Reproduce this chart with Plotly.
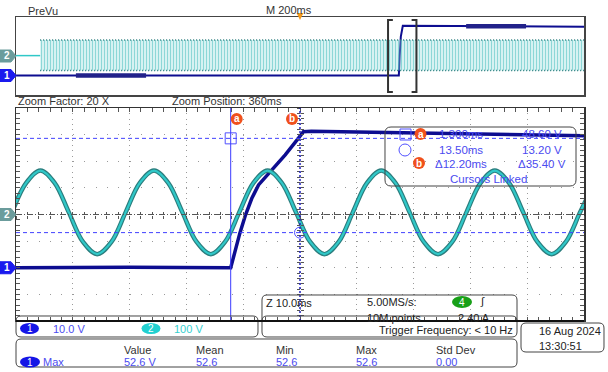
import plotly.graph_objects as go

W, H = 608, 372

# ---------------- data ----------------
# main (zoomed) window, time in ms (zoom position 360 ms, 10 ms/div)
ch1_t = [310, 330, 347.8, 348.6, 349.4, 350.4, 351.5, 352.7, 355.0, 357.4, 359.7, 360.6, 362, 370, 380, 395, 410]
ch1_v = [0, 0.2, 0, 6.5, 12.9, 19.8, 26.0, 31.1, 36.7, 42.4, 48.6, 51.1, 51.3, 51.0, 50.6, 50.0, 49.6]

ch2_t = [309.3, 311.8, 314.3, 316.8, 319.3, 321.8, 324.3, 326.8,
         329.3, 331.8, 334.3, 336.8, 339.3, 341.8, 344.3, 346.8,
         349.3, 351.8, 354.3, 356.8, 359.3, 361.8, 364.3, 366.8,
         369.3, 371.8, 374.3, 376.8, 379.3, 381.8, 384.3, 386.8,
         389.3, 391.8, 394.3, 396.8, 399.3, 401.8, 404.3, 406.8,
         409.3, 411.8]
ch2_v = [8, 119, 165, 119, 8, -103, -149, -103,
         8, 119, 165, 119, 8, -103, -149, -103,
         8, 119, 165, 119, 8, -103, -149, -103,
         8, 119, 165, 119, 8, -103, -149, -103,
         8, 119, 165, 119, 8, -103, -149, -103,
         8, 119]

# preview (200 ms/div), trigger at 0 ms
pv_ch1_t = [-1000, 348, 351, 355, 362, 1000]
pv_ch1_v = [0, 0, 20, 40, 51, 50]
pv_ch1_burst_lo_t = [-789, -542]
pv_ch1_burst_lo_v = [0, 0]
pv_ch1_burst_hi_t = [585, 796]
pv_ch1_burst_hi_v = [50.5, 50.5]
pv_ch2_flat_t = [-1000, -915]
pv_ch2_flat_v = [4, 4]
pv_ch2_env_t = [-915, 1000]
pv_ch2_env_hi = [165, 165]
pv_ch2_env_lo = [-149, -149]

cursor_a_t, cursor_b_t = 347.8, 360.0
cursor_a_v, cursor_b_v = 48.6, 13.2
zoom_lo, zoom_hi = 310, 410

readout = [("1.300ms", "48.60 V"), ("13.50ms", "13.20 V"), ("\u039412.20ms", "\u039435.40 V")]
meas_headers = ["Value", "Mean", "Min", "Max", "Std Dev"]
meas_values = ["52.6 V", "52.6", "52.6", "52.6", "0.00"]

# ---------------- helpers ----------------
def px(x):
    return x / W

def py(y):
    return 1 - y / H

FONT = "Liberation Sans"
BLUE_TXT = "#4b4bf0"
CH1 = "#0d0d90"
CH2_IN = "#30c8c8"
CH2_OUT = "#2b7d7d"
ORANGE = "#f0501c"

def rrect(x0, y0, x1, y1, r):
    pts = [
        ("M", [(x0 + r, y0)]), ("L", [(x1 - r, y0)]), ("Q", [(x1, y0), (x1, y0 + r)]),
        ("L", [(x1, y1 - r)]), ("Q", [(x1, y1), (x1 - r, y1)]), ("L", [(x0 + r, y1)]),
        ("Q", [(x0, y1), (x0, y1 - r)]), ("L", [(x0, y0 + r)]), ("Q", [(x0, y0), (x0 + r, y0)]),
    ]
    s = ""
    for cmd, ps in pts:
        s += cmd + " " + " ".join(f"{px(a):.5f},{py(b):.5f}" for a, b in ps) + " "
    return s + "Z"

shapes, ann = [], []

def text(x, y, s, color="#333", size=11, anchor="left", bold=False):
    ann.append(dict(x=px(x), y=py(y), xref="paper", yref="paper", text=(f"<b>{s}</b>" if bold else s),
                    showarrow=False, xanchor=anchor, yanchor="middle", borderpad=0,
                    font=dict(family=FONT, size=size, color=color)))

def pill(cx, cy, w, h, color, label):
    shapes.append(dict(type="circle", xref="paper", yref="paper", x0=px(cx - w / 2), x1=px(cx + w / 2),
                       y0=py(cy + h / 2), y1=py(cy - h / 2), fillcolor=color, line=dict(width=0)))
    text(cx, cy, label, color="white", size=10, anchor="center")

def box(x0, y0, x1, y1, r=4, color="#444"):
    shapes.append(dict(type="path", xref="paper", yref="paper", path=rrect(x0, y0, x1, y1, r),
                       line=dict(color=color, width=1), fillcolor="rgba(0,0,0,0)"))

# ---------------- traces ----------------
fig = go.Figure()
# main ch2 (outline + inner)
fig.add_trace(go.Scatter(x=ch2_t, y=ch2_v, xaxis="x", yaxis="y2", mode="lines",
                         line=dict(color=CH2_OUT, width=4.5, shape="spline"), hoverinfo="skip"))
fig.add_trace(go.Scatter(x=ch2_t, y=ch2_v, xaxis="x", yaxis="y2", mode="lines",
                         line=dict(color=CH2_IN, width=2.2, shape="spline"), hoverinfo="skip"))
# main ch1
fig.add_trace(go.Scatter(x=ch1_t, y=ch1_v, xaxis="x", yaxis="y", mode="lines",
                         line=dict(color=CH1, width=3.5), hoverinfo="skip"))
# cursor markers
fig.add_trace(go.Scatter(x=[cursor_a_t], y=[cursor_a_v], xaxis="x", yaxis="y", mode="markers",
                         marker=dict(symbol="square-open", size=11, color="#5050ff", line=dict(width=1))))
fig.add_trace(go.Scatter(x=[cursor_b_t], y=[cursor_b_v], xaxis="x", yaxis="y", mode="markers",
                         marker=dict(symbol="circle-open", size=11, color="#5050ff", line=dict(width=1))))

# preview ch2 envelope (dense 50 Hz cycles)
fig.add_trace(go.Scatter(x=pv_ch2_env_t, y=pv_ch2_env_lo, xaxis="x2", yaxis="y4", mode="lines",
                         line=dict(color=CH2_OUT, width=1.5, dash="1px,2px"), hoverinfo="skip"))
fig.add_trace(go.Scatter(x=pv_ch2_env_t, y=pv_ch2_env_hi, xaxis="x2", yaxis="y4", mode="lines",
                         line=dict(color=CH2_OUT, width=1.5, dash="1px,2px"), fill="tonexty",
                         fillcolor="rgba(170,230,230,0.3)",
                         fillpattern=dict(shape="|", fgcolor="#35b8b8", size=3, solidity=0.45),
                         hoverinfo="skip"))
fig.add_trace(go.Scatter(x=pv_ch2_flat_t, y=pv_ch2_flat_v, xaxis="x2", yaxis="y4", mode="lines",
                         line=dict(color=CH2_IN, width=1.5), hoverinfo="skip"))
# preview ch1
fig.add_trace(go.Scatter(x=pv_ch1_t, y=pv_ch1_v, xaxis="x2", yaxis="y3", mode="lines",
                         line=dict(color=CH1, width=2), hoverinfo="skip"))
for bt, bv in [(pv_ch1_burst_lo_t, pv_ch1_burst_lo_v), (pv_ch1_burst_hi_t, pv_ch1_burst_hi_v)]:
    fig.add_trace(go.Scatter(x=bt, y=bv, xaxis="x2", yaxis="y3", mode="lines",
                             line=dict(color="#22228a", width=4.5), hoverinfo="skip"))

# dummy traces for crosshair tick axes
for xa, ya in [("x5", "y"), ("x6", "y"), ("x", "y5"), ("x", "y6")]:
    fig.add_trace(go.Scatter(x=[None], y=[None], xaxis=xa, yaxis=ya, hoverinfo="skip"))

# ---------------- shapes ----------------
# crosshair
shapes.append(dict(type="line", xref="x", yref="y", x0=zoom_lo, x1=zoom_hi, y0=20, y1=20,
                   line=dict(color="#555", width=1, dash="6px,2px,1px,2px")))
# cursors
shapes.append(dict(type="line", xref="x", yref="paper", x0=cursor_a_t, x1=cursor_a_t,
                   y0=py(321), y1=py(108), line=dict(color="#3a3aff", width=1)))
shapes.append(dict(type="line", xref="x", yref="paper", x0=cursor_b_t, x1=cursor_b_t,
                   y0=py(321), y1=py(108), line=dict(color="#2020c0", width=1.5, dash="2px,2px")))
for v in (cursor_a_v, cursor_b_v):
    shapes.append(dict(type="line", xref="paper", yref="y", x0=px(16), x1=px(584), y0=v, y1=v,
                       line=dict(color="#4040ff", width=1, dash="4px,3px")))

# cursor a/b orange labels in plot
for t, dx, lab in [(cursor_a_t, 6, "a"), (cursor_b_t, -8, "b")]:
    shapes.append(dict(type="circle", xref="x", yref="paper", xsizemode="pixel", xanchor=t,
                       x0=dx - 6, x1=dx + 6, y0=py(125), y1=py(113), fillcolor=ORANGE, line=dict(width=0)))
    ann.append(dict(x=t, xref="x", xshift=dx, y=py(119), yref="paper", text=f"<b>{lab}</b>", showarrow=False,
                    font=dict(family=FONT, size=10, color="white"), xanchor="center", yanchor="middle"))

# zoom brackets in preview
arm = 17
for t, s in [(zoom_lo, 1), (zoom_hi, -1)]:
    shapes.append(dict(type="path", xref="x2", yref="paper",
                       path=f"M {t + s * arm},{py(20):.5f} L {t},{py(20):.5f} L {t},{py(92):.5f} L {t + s * arm},{py(92):.5f}",
                       line=dict(color="#333", width=2)))

# channel tags
def tag(yref, yval, color, label):
    shapes.append(dict(type="path", xref="paper", yref=yref, xsizemode="pixel", ysizemode="pixel",
                       xanchor=0, yanchor=yval, path="M 0,-6 L 11,-6 L 16,0 L 11,6 L 0,6 Z",
                       fillcolor=color, line=dict(color=color, width=1)))
    ann.append(dict(x=px(6.5), xref="paper", y=yval, yref=yref, text=f"<b>{label}</b>", showarrow=False,
                    font=dict(family=FONT, size=10, color="white"), xanchor="center", yanchor="middle"))

tag("y2", 0, "#6b9c9c", "2")
tag("y", 0, "#1a1aee", "1")
tag("y4", 0, "#6b9c9c", "2")
tag("y3", 0, "#1a1aee", "1")

# trigger marker (small triangle on preview top)
shapes.append(dict(type="path", xref="x2", yref="paper", ysizemode="pixel", yanchor=py(17),
                   path="M -12,4 L 12,4 L 0,-3 Z", fillcolor="#f59a1a", line=dict(width=0)))

# ---------------- texts ----------------
text(27, 11, "PreVu")
text(265, 10, "M 200ms")
text(17, 101, "Zoom Factor: 20 X")
text(171, 101, "Zoom Position: 360ms")

# cursor readout box
box(385, 127, 576, 186, r=6)
shapes.append(dict(type="rect", xref="paper", yref="paper", x0=px(400), x1=px(411), y0=py(140), y1=py(129),
                   line=dict(color="#5050ff", width=1)))
shapes.append(dict(type="circle", xref="paper", yref="paper", x0=px(399), x1=px(411), y0=py(156), y1=py(144),
                   line=dict(color="#5050ff", width=1)))
for cx, cy, lab in [(420.5, 134, "a"), (419, 163, "b")]:
    shapes.append(dict(type="circle", xref="paper", yref="paper", x0=px(cx - 6), x1=px(cx + 6),
                       y0=py(cy + 6), y1=py(cy - 6), fillcolor=ORANGE, line=dict(width=0)))
    text(cx, cy, lab, color="white", size=10, anchor="center", bold=True)
for i, (tt, vv) in enumerate(readout):
    yy = [134, 150, 164][i]
    text(461, yy, tt, color=BLUE_TXT, size=11.5, anchor="center")
    text(542, yy, vv, color=BLUE_TXT, size=11.5, anchor="center")
text(488, 179, "Cursors Linked", color=BLUE_TXT, size=11.5, anchor="center")

# Z box
box(262, 295, 517, 330, r=5)
text(265, 303, "Z 10.0ms", color="#222")
text(366, 302, "5.00MS/s:", color="#222")
text(366, 318, "10M points", color="#222")
pill(462, 302, 20, 12, "#18a018", "4")
text(479, 301, "\u222B", color="#222", size=11)
text(457, 318, "2.40 A", color="#222")

# channel settings box and trigger frequency box
shapes.append(dict(type="rect", xref="paper", yref="paper", x0=px(0), x1=px(600), y0=py(337), y1=py(322),
                   fillcolor="white", line=dict(width=0)))
box(16, 316, 258, 337, r=5)
box(262, 316, 517, 337, r=5)
shapes.append(dict(type="line", xref="paper", yref="paper", x0=px(16), x1=px(584), y0=py(321), y1=py(321),
                   line=dict(color="#111", width=2)))
pill(29.5, 328.5, 19, 11, "#1515e6", "1")
text(52, 328.5, "10.0 V", color=BLUE_TXT)
pill(151, 328.5, 19, 11, "#22d0d0", "2")
text(173, 328.5, "100 V", color="#35d0d0")
text(514, 329.5, "Trigger Frequency: < 10 Hz", color="#222", anchor="right")

# measurement box
box(16, 339, 517, 367, r=5)
mx = [123, 195, 275, 355, 435]
for x, h in zip(mx, meas_headers):
    text(x, 350, h, color="#333")
for x, v in zip(mx, meas_values):
    text(x, 362, v, color=BLUE_TXT)
pill(30, 362, 20, 11, "#1515e6", "1")
text(42, 362, "Max", color=BLUE_TXT)

# date box
box(521, 323, 604, 352, r=5)
text(538, 331, "16 Aug 2024", color="#222")
text(538, 346, "13:30:51", color="#222")

# ---------------- layout ----------------
XD = [px(16), px(584)]
MAIN_Y = [py(321), py(108)]
PV_Y = [py(95), py(17)]
grid_col = "#9a9a9a"
cy_center = (MAIN_Y[0] + MAIN_Y[1]) / 2

fig.update_layout(
    width=W, height=H, margin=dict(l=0, r=0, t=0, b=0),
    paper_bgcolor="white", plot_bgcolor="white", showlegend=False,
    shapes=shapes, annotations=ann,
    xaxis=dict(domain=XD, range=[zoom_lo, zoom_hi], dtick=10, tick0=310, anchor="y",
               showgrid=True, gridcolor=grid_col, griddash="1px,4.3px", gridwidth=1,
               zeroline=False, showticklabels=False, ticks="inside", ticklen=4, tickcolor="#555",
               minor=dict(dtick=2, ticks="inside", ticklen=2, tickcolor="#555"),
               showline=True, linecolor="#333", linewidth=1.5, mirror="allticks"),
    yaxis=dict(domain=MAIN_Y, range=[-20, 60], dtick=10, tick0=0, anchor="x",
               showgrid=True, gridcolor=grid_col, griddash="1px,10.36px", gridwidth=1,
               zeroline=False, showticklabels=False, ticks="inside", ticklen=4, tickcolor="#555",
               minor=dict(dtick=2, ticks="inside", ticklen=2, tickcolor="#555"),
               showline=True, linecolor="#333", linewidth=1.5, mirror="allticks"),
    yaxis2=dict(range=[-400, 400], overlaying="y", anchor="x", visible=False),
    xaxis2=dict(domain=XD, range=[-1000, 1000], anchor="y3", showgrid=False, zeroline=False,
                showticklabels=False, ticks="", showline=True, linecolor="#444", linewidth=1.5, mirror=True),
    yaxis3=dict(domain=PV_Y, range=[-20, 60], anchor="x2", showgrid=False, zeroline=False,
                showticklabels=False, ticks="", showline=True, linecolor="#444", linewidth=1.5, mirror=True),
    yaxis4=dict(range=[-400, 400], overlaying="y3", anchor="x2", visible=False),
    xaxis5=dict(range=[zoom_lo, zoom_hi], overlaying="x", anchor="free", position=cy_center, dtick=2, tick0=310,
                ticks="outside", ticklen=3, tickcolor="#555", showticklabels=False, showgrid=False,
                zeroline=False, showline=False),
    xaxis6=dict(range=[zoom_lo, zoom_hi], overlaying="x", anchor="free", position=cy_center, dtick=2, tick0=310,
                ticks="inside", ticklen=3, tickcolor="#555", showticklabels=False, showgrid=False,
                zeroline=False, showline=False),
    yaxis5=dict(range=[-20, 60], overlaying="y", anchor="free", position=px(300), dtick=2, tick0=0,
                ticks="outside", ticklen=3, tickcolor="#555", showticklabels=False, showgrid=False,
                zeroline=False, showline=False),
    yaxis6=dict(range=[-20, 60], overlaying="y", anchor="free", position=px(300), dtick=2, tick0=0,
                ticks="inside", ticklen=3, tickcolor="#555", showticklabels=False, showgrid=False,
                zeroline=False, showline=False),
)

fig.write_html("out.html", config={"displayModeBar": False, "staticPlot": True},
               post_script="document.body.style.margin='0';document.body.style.padding='0';")
